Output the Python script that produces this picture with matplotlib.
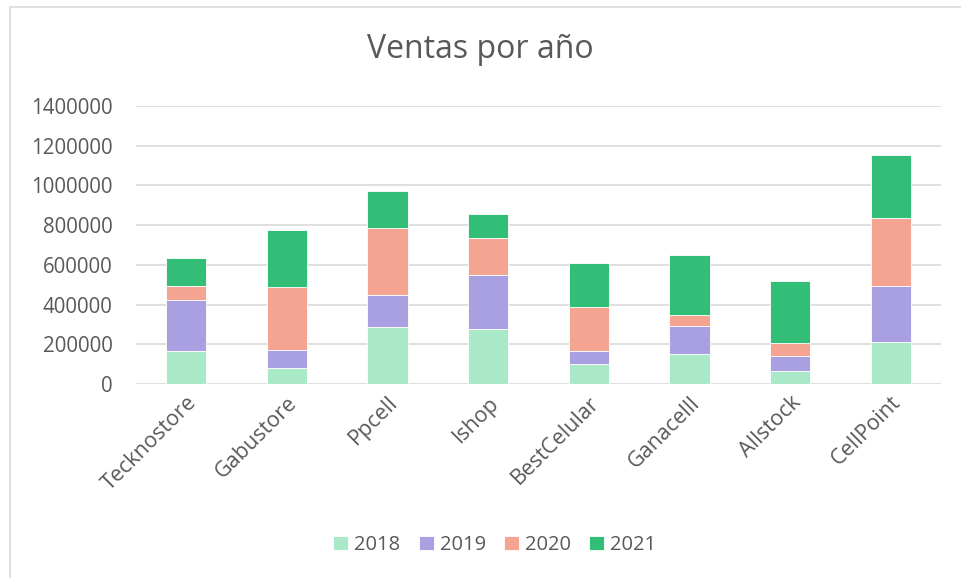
import numpy as np
import matplotlib
matplotlib.use("Agg")
from matplotlib import pyplot as plt
from matplotlib.patches import Rectangle
from matplotlib.ticker import StrMethodFormatter

tiendas = ["Tecknostore", "Gabustore", "Ppcell", "Ishop",
           "BestCelular", "Ganacelll", "Allstock", "CellPoint"]
years = ["2018", "2019", "2020", "2021"]
v2018 = [166000, 79000, 286000, 276000, 99000, 150000, 64000, 212000]
v2019 = [257500, 94000, 160000, 275000, 69000, 142000, 77000, 284000]
v2020 = [69000, 318000, 338000, 182000, 220000, 54000, 67000, 339000]
v2021 = [141000, 286000, 190000, 121000, 219000, 306000, 313000, 320000]
colors = ["#A9E9C8", "#A9A0E2", "#F6A492", "#33BE78"]

plt.rcParams['font.family'] = ['Open Sans', 'DejaVu Sans']
txt = "#595959"

fig = plt.figure(figsize=(9.61, 5.78), dpi=100)
ax = fig.add_axes([136 / 961, 1 - 384 / 578, 805 / 961, 278 / 578])

# chart frame like the excel one
fig.patches.append(Rectangle((10 / 961, -0.01), 1.0, 1 - 7 / 578 + 0.01,
                             transform=fig.transFigure, fill=False,
                             edgecolor="#D9D9D9", linewidth=1.2))

x = np.arange(len(tiendas))
bottom = np.zeros(len(tiendas))
for yr, vals, c in zip(years, [v2018, v2019, v2020, v2021], colors):
    ax.bar(x, vals, width=0.4, bottom=bottom, color=c, label=yr,
           edgecolor="white", linewidth=0.6, zorder=3)
    bottom += np.array(vals)

ax.set_xlim(-0.5, 7.5)
ax.set_ylim(0, 1400000)
ax.set_yticks(range(0, 1400001, 200000))
ax.yaxis.set_major_formatter(StrMethodFormatter("{x:.0f}"))
ax.yaxis.grid(True, color="#D9D9D9", linewidth=1.2, zorder=0)
ax.set_axisbelow(True)
for s in ["top", "right", "left", "bottom"]:
    ax.spines[s].set_visible(False)
ax.tick_params(axis="y", length=0, colors=txt, labelsize=14.8, pad=17)
ax.tick_params(axis="x", length=0, colors=txt, labelsize=15.5, pad=6)
ax.set_xticks(x)
ax.set_xticklabels(tiendas, rotation=45, ha="right", rotation_mode="anchor")

fig.text(0.5, 1 - 50 / 578, "Ventas por año", ha="center", va="center",
         fontsize=23, color=txt)

fig.legend(loc="center", bbox_to_anchor=(0.515, 1 - 545 / 578), ncol=4,
           frameon=False, fontsize=14.5, labelcolor=txt, handlelength=0.75,
           handleheight=0.75, handletextpad=0.3, columnspacing=0.9)

fig.savefig("out.png", dpi=100)
